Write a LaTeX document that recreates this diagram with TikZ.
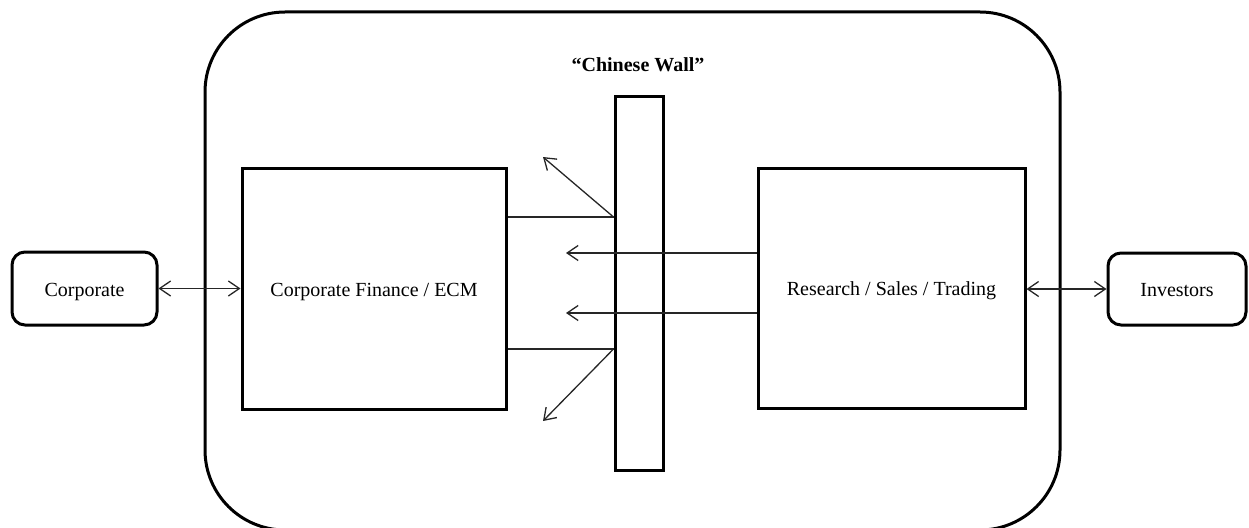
\documentclass[tikz,border=0pt]{standalone}
\usepackage{fontspec}
\setmainfont{Liberation Serif}
\usetikzlibrary{arrows.meta}

\tikzset{
  unitbox/.style={draw=black, line width=3pt, fill=white, inner sep=0pt,
    font=\fontsize{20}{24}\selectfont, align=center,
    text height=17pt, text depth=2pt},
  partybox/.style={unitbox, rounded corners=13pt},
  link/.style={draw=black!85, line width=1.3pt},
  barb/.style={link, -{Straight Barb[length=11pt,width=15pt]}},
  barbs/.style={link, {Straight Barb[length=11pt,width=15pt]}-{Straight Barb[length=11pt,width=15pt]}}
}

\begin{document}
\begin{tikzpicture}[x=1pt, y=-1pt]
  \useasboundingbox (0,0) rectangle (1249,527);

  % bank boundary, running past the lower edge
  \begin{scope}
    \clip (0,0) rectangle (1249,527);
    \draw[line width=3pt, rounded corners=80pt] (205,12) rectangle (1060,530);
  \end{scope}

  % title of the barrier
  \node[font=\bfseries\fontsize{20}{24}\selectfont] (title) at (638,65) {“Chinese Wall”};

  % outside parties
  \node[partybox, minimum width=145pt, minimum height=73pt] (corp) at (84.5,288.5) {Corporate};
  \node[partybox, minimum width=138pt, minimum height=72pt] (inv) at (1177,289) {Investors};

  % divisions of the bank
  \node[unitbox, minimum width=264pt, minimum height=241pt] (cf) at (374,288.5) {Corporate Finance / ECM};
  \node[unitbox, minimum width=267pt, minimum height=240pt] (rst) at (891.5,288) {Research / Sales / Trading};

  % the wall itself
  \node[draw=black, line width=3pt, inner sep=0pt, minimum width=48pt, minimum height=374pt] (wall) at (639,283) {};

  % levels and free ends of the connectors
  \coordinate (hiA) at (0,217);
  \coordinate (hiB) at (0,349);
  \coordinate (rA) at (0,253);
  \coordinate (rB) at (0,313);
  \coordinate (deflA) at (543,157);
  \coordinate (deflB) at (543,421);
  \coordinate (stopA) at (566,253);
  \coordinate (stopB) at (566,313);

  % links with the outside parties
  \draw[barbs] (corp.east) -- (cf.west |- corp.east);
  \draw[barbs] (rst.east |- inv.west) -- (inv.west);

  % information bounced back by the wall
  \draw[link] (cf.east |- hiA) -- (wall.west |- hiA);
  \draw[barb] (wall.west |- hiA) -- (deflA);
  \draw[link] (cf.east |- hiB) -- (wall.west |- hiB);
  \draw[barb] (wall.west |- hiB) -- (deflB);

  % information passed from research to the other side
  \draw[barb] (rst.west |- rA) -- (stopA);
  \draw[barb] (rst.west |- rB) -- (stopB);
\end{tikzpicture}
\end{document}
